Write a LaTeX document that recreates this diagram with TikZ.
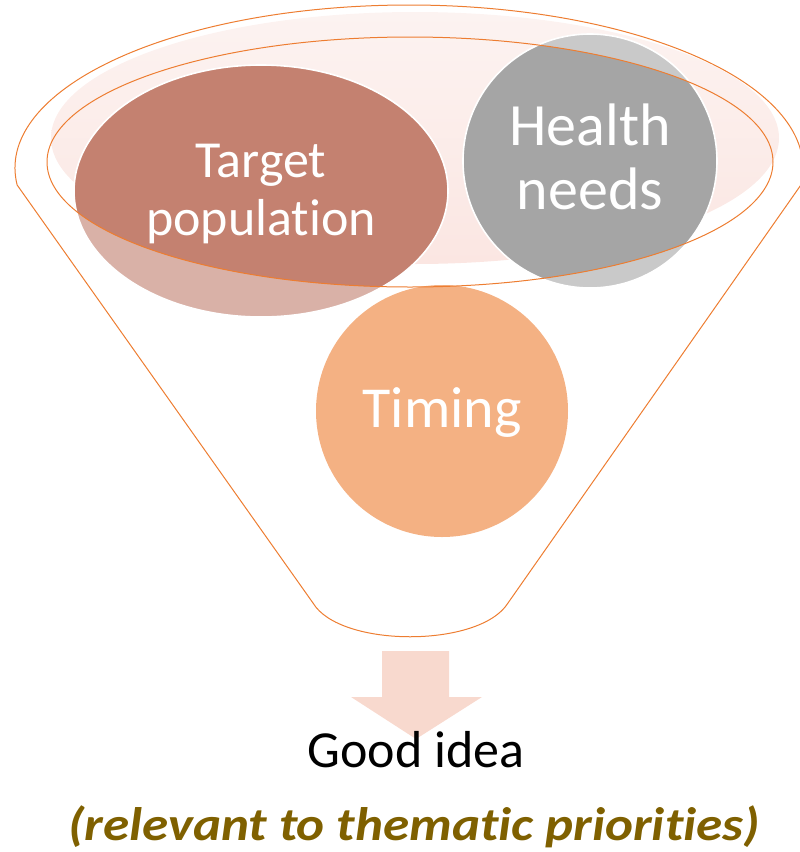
\documentclass[tikz,border=0pt]{standalone}
\usepackage{fontspec}
\setmainfont{Carlito}[Ligatures=NoCommon]

\definecolor{rimline}{HTML}{ED7D31}
\definecolor{rimlow}{HTML}{FBE6E2}
\definecolor{rimhigh}{HTML}{FCF3F1}
\definecolor{popdark}{HTML}{C48170}
\definecolor{poplight}{HTML}{D9B1A7}
\definecolor{needdark}{HTML}{A5A5A5}
\definecolor{needlight}{HTML}{C9C9C9}
\definecolor{timefill}{HTML}{F4B183}
\definecolor{arrowfill}{HTML}{F8D9CE}
\definecolor{prioclr}{HTML}{7F6000}

\begin{document}
\begin{tikzpicture}[x=1pt,y=-1pt]
  \tikzstyle{rim} = [draw=rimline, line width=1pt]
  \tikzstyle{edge} = [draw=white, line width=1.6pt]
  \tikzstyle{lbl} = [text=white, align=center, inner sep=0pt]
  \useasboundingbox (0,0) rectangle (800,852);

  % rim of the funnel
  \shade[top color=rimhigh, bottom color=rimlow] (415,138) ellipse [x radius=364, y radius=126];

  % target population
  \fill[poplight] (261,191) ellipse [x radius=187, y radius=126];
  \begin{scope}
    \clip (410,162) ellipse [x radius=363, y radius=125];
    \fill[popdark] (261,191) ellipse [x radius=187, y radius=126];
  \end{scope}
  \draw[edge] (261,191) ellipse [x radius=187, y radius=126];

  % health needs
  \fill[needlight] (590,161) circle [radius=127];
  \begin{scope}
    \clip (410,162) ellipse [x radius=363, y radius=125];
    \fill[needdark] (590,161) circle [radius=127];
  \end{scope}
  \draw[edge] (590,161) circle [radius=127];

  % timing
  \fill[timefill] (442,411) circle [radius=126];

  % funnel outline
  \draw[rim] (409,168) ++(174:394 and 163)
    arc [start angle=174, end angle=366, x radius=394, y radius=163]
    -- (508,603) .. controls (480,648) and (340,648) .. (313,603) -- cycle;
  \draw[rim] (410,162) ellipse [x radius=363, y radius=125];

  % arrow out of the funnel
  \fill[arrowfill] (382,651) -- (449,651) -- (449,697) -- (482,697)
    -- (416,739) -- (351,697) -- (382,697) -- cycle;

  \node[lbl, font=\fontsize{52}{58}\selectfont] (tgt) at (261,194) {Target\\population};
  \node[lbl, font=\fontsize{60}{64}\selectfont] (need) at (590,157) {Health\\needs};
  \node[lbl, font=\fontsize{58}{64}\selectfont, anchor=base] (time) at (442,427) {Timing};
  \node[inner sep=0pt, font=\fontsize{52}{56}\selectfont, anchor=base] (idea) at (416,767) {Good idea};
  \node[inner sep=0pt, text=prioclr, font=\fontsize{47}{52}\selectfont\bfseries\itshape, anchor=base, xscale=1.13, transform shape] (prio) at (414,840) {(relevant to thematic priorities)};
\end{tikzpicture}
\end{document}
